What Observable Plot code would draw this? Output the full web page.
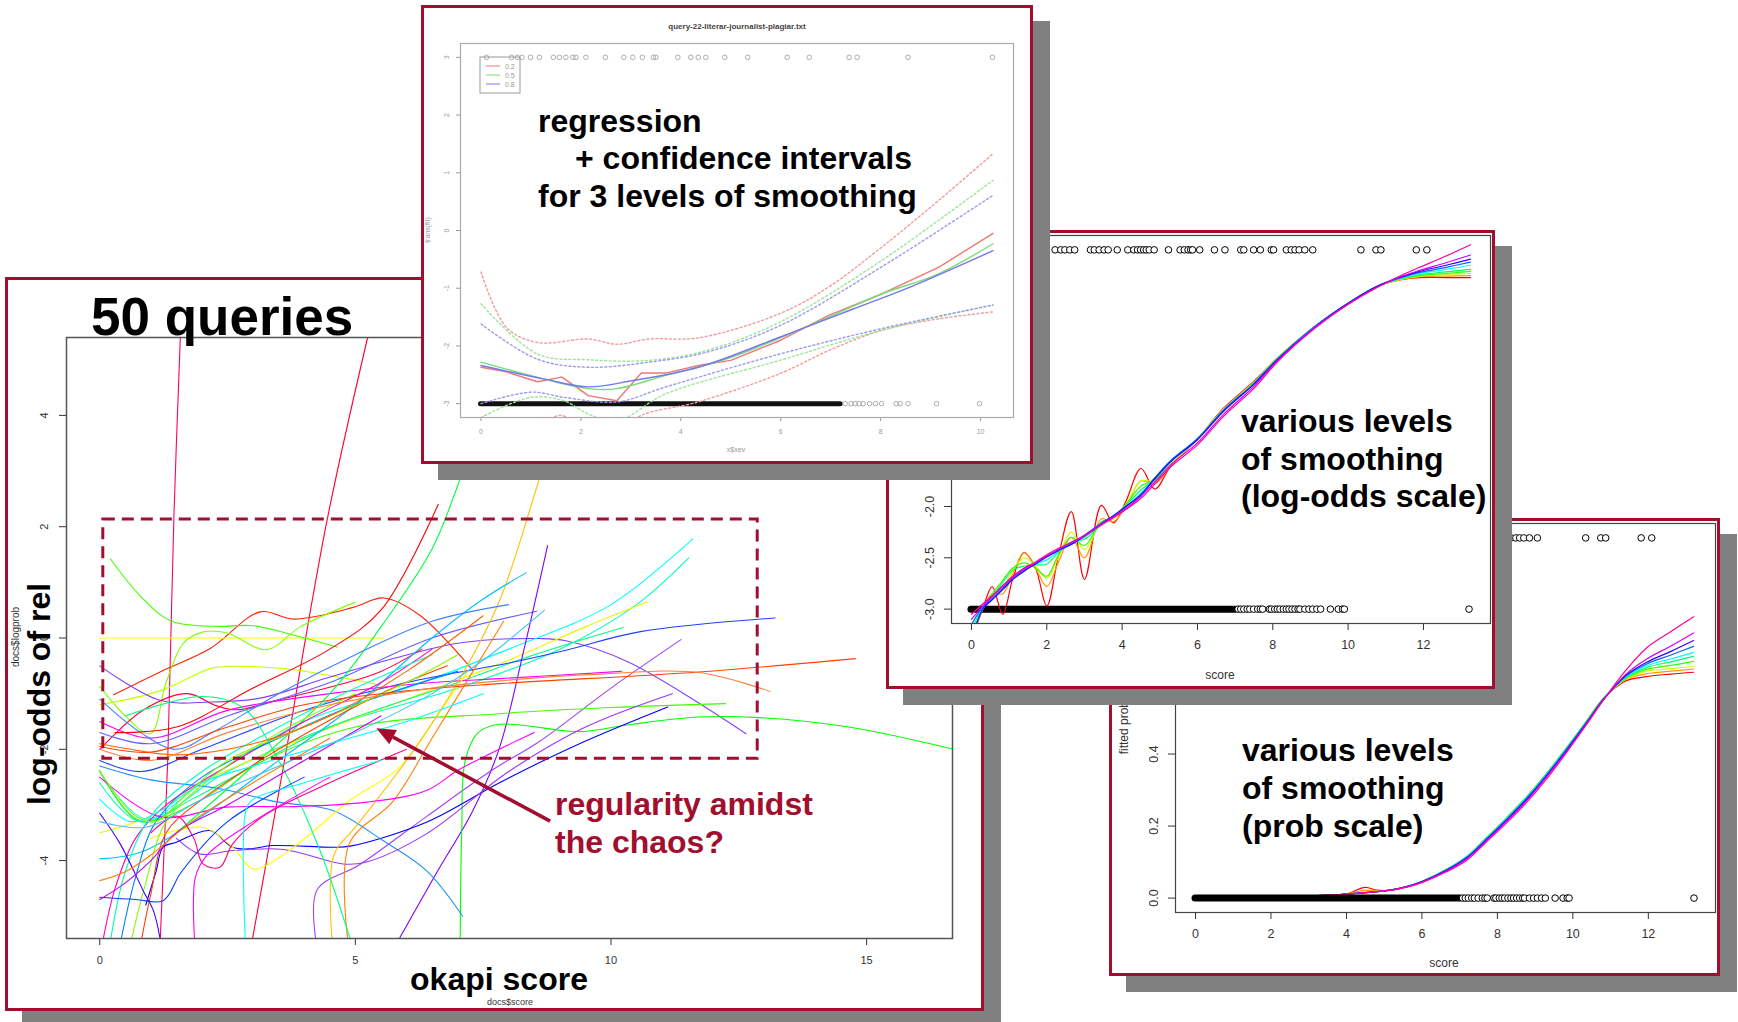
<!DOCTYPE html>
<html>
<head>
<meta charset="utf-8">
<script src="https://cdn.jsdelivr.net/npm/d3@7"></script>
<script src="https://cdn.jsdelivr.net/npm/@observablehq/plot@0.6"></script>
<style>
  html, body { margin: 0; padding: 0; background: #fff; }
  #page { position: relative; width: 1738px; height: 1022px; overflow: hidden; background: #fff;
          font-family: "Liberation Sans", Arial, sans-serif; }
  .panel { position: absolute; box-sizing: border-box; border: 3px solid #a10e2e; background: #fff;
           box-shadow: 17px 16px 0 #808080; overflow: hidden; }
</style>
</head>
<body>
<div id="page"></div>
<script>
// ---------------- DATA ----------------
// Panel A: 50 queries, smoothed log-odds of relevance vs okapi score
const xTicksA = [0, 5, 10, 15];
const yTicksA = [-4, -2, 0, 2, 4];
const queryColors = [
  "#FF0066","#FF0033","#FF2000","#FFFF00","#40FF00","#80FF00","#C0FF00","#8040FF","#FF0040","#00FFFF",
  "#00FFBF","#F0F000","#00FF80","#2040FF","#6060FF","#8000FF","#A040FF","#FF00FF","#40FF00","#00FF00",
  "#0000FF","#1E90FF","#9933FF","#FFFF00","#FFC000","#FF8000","#FF00FF","#00BFFF","#00FF40","#00FF80",
  "#FF00BF","#00FFBF","#0080FF","#80FF00","#FF4000","#4000FF","#BF00FF","#FF8000","#0040FF","#FF0080",
  "#00FFFF","#80FF00","#FF6000","#4080FF","#00FFFF","#FF00FF","#FF4000","#FF8040","#FF0000","#40C0FF"
];
const queryCurves = [
  [[1.18,-5.5],[1.25,-4],[1.33,-2.2],[1.45,2.15],[1.58,5.5]],
  [[2.97,-5.5],[3.62,-2.17],[4.45,2.13],[5.24,5.4]],
  [[0.27,-1.02],[1.2,-0.6],[2.16,-0.19],[3.14,0.47],[3.79,0.34],[4.96,0.55],[5.55,0.72],[6.26,0.41],[7.3,-0.58]],
  [[0,0],[5.55,0]],
  [[0.21,1.42],[0.8,0.75],[1.38,0.31],[2.23,0.21],[3.0,0.22],[3.8,0.05],[4.64,-0.16]],
  [[0,-0.87],[0.5,-1.4],[0.99,-1.72],[1.3,-0.8],[1.64,-0.09],[2.03,0.11],[2.49,0.09],[3.27,-0.21],[3.92,0.2],[4.99,0.64]],
  [[0,-1.2],[1.18,-0.95],[2.16,-0.55],[2.49,-0.51],[3.79,-0.57],[4.77,-0.72],[5.42,-0.83]],
  [[0,-0.5],[1.18,-1.12],[2.16,-1.15],[3.14,-1.08],[4.44,-0.72],[5.74,-0.37],[7.04,-0.09],[8.6,-0.01],[9.12,-0.05],[10.36,-0.44],[12.64,-1.72]],
  [[0,-2.0],[0.86,-1.29],[1.71,-1.0],[2.29,-1.22],[2.68,-1.29],[3.46,-1.12],[4.44,-0.9],[5.5,-0.6],[6.3,-0.2]],
  [[0,-2.4],[0.9,-3.25],[2,-2.6],[4,-1.5],[6,-0.9],[8,-0.2],[10,0.6],[11.6,1.78]],
  [[0,-2.6],[0.8,-3.3],[2.5,-2.4],[4.5,-1.6],[7,-0.9],[9,-0.2],[10.5,0.6],[11.52,1.44]],
  [[0,-3.5],[1,-3.2],[2,-2.6],[4,-1.8],[6,-1.1],[8,-0.4],[9.5,0.2],[10.72,0.65]],
  [[0,-2.4],[0.8,-3.3],[1.8,-2.9],[3,-2.3],[4.5,-1.6],[7,-0.8],[8.5,-0.3],[10.24,0.19]],
  [[0,-2.2],[0.8,-2.4],[2,-2.0],[4,-1.3],[6,-0.8],[8,-0.45],[9.12,-0.22],[10.55,0.11],[13.21,0.36]],
  [[0,-1.7],[1,-1.9],[2.5,-1.4],[4.5,-0.8],[6.5,0.0],[8.55,0.48]],
  [[5.8,-5.5],[6.6,-4.2],[7.3,-3.1],[7.82,-1.97],[8.3,-0.2],[8.76,1.66]],
  [[4.24,-5.5],[4.25,-4.53],[5.09,-4.07],[6.39,-3.21],[7.7,-2.36],[8.6,-1.86],[10,-0.9],[11.37,-0.03]],
  [[0,-1.5],[1,-1.8],[2.5,-1.3],[4.5,-1.0],[6.5,-0.8],[7.82,-0.73],[10.2,-0.6]],
  [[0,-2.38],[0.78,-3.28],[1.96,-2.92],[3,-2.3],[5,-1.6],[7.82,-1.36],[10,-1.25],[12.24,-1.18]],
  [[7.05,-5.5],[7.08,-3.5],[7.15,-2.2],[7.4,-1.7],[7.82,-1.55],[9.12,-1.67],[9.48,-1.68],[10.42,-1.55],[11.72,-1.42],[12.9,-1.43],[14.65,-1.6],[16.66,-1.99]],
  [[0.9,-4.8],[1.1,-4.2],[1.24,-3.76],[1.5,-3.67],[2.15,-3.46],[2.6,-3.76],[2.9,-3.79],[3.39,-3.73],[4.56,-3.76],[4.9,-3.74],[6.39,-3.31],[7.82,-2.6],[9.31,-1.93],[11.11,-1.24]],
  [[0,-2.3],[1,-2.55],[2.3,-2.7],[3.5,-2.95],[4.56,-3.1],[5.54,-3.64],[6.39,-4.18],[7.1,-5.0]],
  [[1.5,-3.6],[1.96,-3.88],[2.6,-3.82],[3.6,-3.8],[4.76,-4.06],[5.2,-4.03],[6.39,-3.52],[8,-2.4],[9.5,-1.6],[11.2,-1.0]],
  [[1.0,-3.6],[2.0,-3.4],[2.6,-3.76],[3.0,-4.15],[3.5,-3.95],[4.04,-3.58],[4.89,-2.92],[5.87,-2.32],[6.6,-1.4],[7.2,-0.6]],
  [[4.55,-5.5],[4.58,-3.9],[5.0,-3.4],[6.0,-2.2],[7.0,-0.8],[7.82,0.67],[8.59,2.83],[9.0,4.0]],
  [[4.86,-5.5],[4.88,-3.7],[5.74,-2.93],[6.5,-1.8],[7.3,-0.6],[7.9,0.3]],
  [[0,-2.5],[1.18,-3.21],[2.48,-3.04],[3.79,-3.03],[5.22,-2.95],[6.39,-2.74],[7.04,-2.36],[8.5,-1.7]],
  [[0,-3.97],[0.8,-3.85],[2,-3.2],[3.5,-2.2],[5,-1.2],[6.5,0.0],[7.5,0.7],[8.34,1.17]],
  [[1.5,-3.5],[3,-2.3],[4.5,-1.0],[5.5,0.2],[6.5,1.6],[7.04,2.83],[7.6,4.2]],
  [[0.5,-1.4],[2.0,-1.05],[2.8,-1.25],[3.5,-2.2],[4.3,-3.8],[4.93,-5.5]],
  [[0.05,-5.5],[0.3,-4.5],[0.7,-3.6],[1.3,-3.0],[2.5,-2.3],[4,-1.5],[5.5,-0.8],[6.5,-0.2]],
  [[0.2,-5.5],[0.5,-4.2],[1.0,-3.2],[2,-2.4],[3.5,-1.6],[5,-0.9],[6.5,-0.3]],
  [[0.4,-5.5],[0.7,-4.3],[1.1,-3.3],[2,-2.5],[3.5,-1.8],[5,-1.2],[7,-0.6]],
  [[0.6,-5.5],[0.9,-4.4],[1.3,-3.3],[2.2,-2.5],[3.5,-1.7],[5,-1.0]],
  [[0.8,-5.5],[1.0,-4.6],[1.3,-3.5],[2.0,-2.9],[3.5,-2.0],[5.5,-1.0],[6.8,-0.5]],
  [[0,-3.15],[0.4,-3.7],[0.85,-4.54],[1.05,-4.9],[1.2,-5.5]],
  [[0,-4.7],[0.5,-4.4],[1.0,-4.0],[1.5,-3.5],[2.5,-3.0],[4,-2.2],[5.5,-1.4]],
  [[0,-4.36],[0.5,-4.2],[1.0,-3.9],[1.8,-3.3],[3,-2.6],[4.5,-1.8]],
  [[0,-4.66],[0.7,-4.7],[1.24,-4.72],[1.6,-4.2],[2.5,-3.3],[4,-2.5]],
  [[1.0,-3.5],[1.5,-3.2],[1.84,-3.6],[2.02,-4.06],[2.35,-4.12],[2.6,-3.7],[3.2,-3.2],[4.5,-2.6],[6,-2.0]],
  [[0,-2.9],[0.6,-3.3],[1.2,-3.1],[2,-2.6],[3,-2.3],[4.5,-1.9],[6,-1.5],[7.5,-1.0]],
  [[0,-2.4],[0.7,-3.2],[1.1,-3.3],[1.7,-2.8],[2.5,-2.2],[4,-1.6],[6,-0.8],[7,-0.3]],
  [[0,-1.9],[0.6,-2.0],[1.5,-2.1],[3,-1.9],[4.5,-1.4],[6,-0.6],[7.5,0.4]],
  [[0,-1.1],[0.8,-1.7],[1.5,-2.0],[2.2,-1.7],[3.5,-1.0],[5,-0.3],[6.5,0.3],[8,0.6]],
  [[2.85,-5.5],[2.86,-3.1],[3.0,-2.9],[4,-2.6],[5.5,-2.2]],
  [[1.86,-5.5],[1.87,-4.3],[2.1,-3.9],[3,-3.3],[4.5,-2.5]],
  [[0,-1.95],[1,-2.05],[2.5,-1.6],[4,-1.2],[6,-0.95],[7.82,-0.82],[11.72,-0.61],[14.78,-0.37]],
  [[0,-2.0],[1,-2.2],[2.5,-1.7],[4.5,-1.2],[6.5,-0.9],[7.82,-0.77],[9.77,-0.65],[11.72,-0.62],[13.11,-0.96]],
  [[0.3,-1.7],[1.5,-1.6],[3,-0.9],[4.5,-0.2],[5.5,0.5],[6.62,2.4]],
  [[0,-3.3],[0.9,-3.4],[2,-2.9],[3.5,-2.3],[5,-1.7],[6.5,-1.0],[7.5,-0.4],[8.7,0.5]]
];
// slide annotations (in panel-A data units)
const highlightBox = [{x1: 0.07, x2: 12.87, y1: -2.17, y2: 2.13}];
const calloutArrow = {x1: 8.82, y1: -3.30, x2: 5.42, y2: -1.63};

// Panel B: one query, regression + confidence intervals
const xTicksB = [0, 2, 4, 6, 8, 10];
const yTicksB = [-3, -2, -1, 0, 1, 2, 3];
const spanLevels = ["0.2", "0.5", "0.8"];
const fitRedB   = [[0,-2.37],[0.51,-2.45],[1.13,-2.62],[1.62,-2.54],[2.15,-2.86],[2.72,-2.95],[3.21,-2.47],[3.70,-2.47],[4.35,-2.34],[5.0,-2.25],[5.98,-1.91],[6.96,-1.47],[8.02,-1.10],[9.16,-0.64],[10.25,-0.05]];
const fitGreenB = [[0,-2.28],[1.25,-2.57],[2.15,-2.74],[2.72,-2.74],[3.70,-2.51],[5.0,-2.2],[6.96,-1.50],[8.02,-1.10],[9.16,-0.75],[10.25,-0.23]];
const fitBlueB  = [[0,-2.34],[1.25,-2.57],[2.15,-2.71],[3.04,-2.60],[4.35,-2.37],[5.98,-1.85],[7.45,-1.36],[8.59,-0.98],[10.25,-0.35]];
const upRedB    = [[0,-0.72],[0.51,-1.68],[1.13,-1.94],[2.15,-1.88],[2.72,-1.97],[3.37,-1.88],[4.35,-1.86],[5.98,-1.44],[6.96,-0.98],[8.02,-0.29],[9.16,0.52],[10.25,1.33]];
const upGreenB  = [[0,-1.27],[1.13,-2.14],[2.15,-2.24],[3.37,-2.25],[4.51,-2.08],[5.98,-1.59],[8.02,-0.52],[10.25,0.87]];
const upBlueB   = [[0,-1.62],[1.13,-2.23],[2.15,-2.37],[3.37,-2.28],[4.51,-2.11],[5.98,-1.65],[8.02,-0.63],[10.25,0.61]];
const loRedB    = [[0,-3.9],[0.6,-3.3],[1.0,-3.5],[1.6,-3.2],[2.2,-3.6],[2.8,-3.6],[3.13,-3.24],[4.35,-2.97],[5.98,-2.48],[6.96,-2.08],[8.02,-1.73],[9.16,-1.53],[10.25,-1.41]];
const loGreenB  = [[0,-3.24],[1.0,-2.89],[1.66,-2.95],[2.15,-3.18],[2.72,-3.3],[3.70,-2.83],[5.98,-2.25],[8.02,-1.73],[10.25,-1.29]];
const loBlueB   = [[0,-3.0],[1.0,-2.80],[1.66,-2.89],[2.72,-2.97],[3.70,-2.71],[5.98,-2.14],[8.02,-1.70],[10.25,-1.29]];
const relevantB = [0.11,0.61,0.73,0.82,0.99,1.17,1.45,1.57,1.70,1.84,1.90,2.10,2.49,2.86,3.04,3.23,3.45,3.50,3.94,4.20,4.35,4.50,4.88,5.34,6.13,6.57,7.37,7.53,8.55,10.24];
const denseB = [0, 7.2];
const sparseB = [7.29,7.41,7.49,7.57,7.65,7.78,7.90,8.02,8.31,8.39,8.55,9.12,9.98];

// Panels C and D: various smoothing levels
const smoothColors = ["#FF0000","#FF9900","#CCFF00","#33FF00","#00FF66","#00FFFF","#0066FF","#3300FF","#CC00FF","#FF0099"];
const xTicksCD = [0, 2, 4, 6, 8, 10, 12];
const yTicksC = [-3, -2.5, -2, -1.5, -1, -0.5, 0, 0.5];
const yTicksD = [0, 0.2, 0.4, 0.6, 0.8, 1];
const scoreGridC = [0,0.3,0.55,0.83,1.1,1.4,1.7,2.0,2.3,2.65,3.0,3.45,3.77,4.1,4.5,4.87,5.3,6.0,6.7,7.5,8.1,9.1,10.0,10.8,11.4,11.9,12.6,13.25];
const logOddsC = [
  [-3.3,-3.0,-2.78,-3.05,-2.7,-2.45,-2.6,-2.97,-2.5,-2.05,-2.71,-1.99,-2.16,-1.95,-1.63,-1.83,-1.6,-1.34,-1.04,-0.78,-0.56,-0.25,-0.02,0.15,0.21,0.23,0.23,0.23],
  [-3.25,-3.0,-2.85,-2.85,-2.65,-2.45,-2.6,-2.78,-2.55,-2.3,-2.5,-2.12,-2.15,-2.0,-1.75,-1.78,-1.6,-1.34,-1.05,-0.79,-0.56,-0.25,-0.02,0.15,0.21,0.24,0.245,0.25],
  [-3.2,-2.98,-2.88,-2.8,-2.62,-2.5,-2.58,-2.7,-2.5,-2.25,-2.42,-2.15,-2.12,-1.98,-1.75,-1.75,-1.58,-1.34,-1.05,-0.79,-0.56,-0.25,-0.02,0.15,0.215,0.245,0.26,0.27],
  [-3.3,-3.0,-2.85,-2.72,-2.6,-2.55,-2.6,-2.68,-2.48,-2.3,-2.38,-2.15,-2.1,-1.98,-1.8,-1.74,-1.56,-1.34,-1.06,-0.8,-0.57,-0.25,-0.02,0.15,0.22,0.25,0.27,0.29],
  [-3.25,-3.0,-2.88,-2.74,-2.62,-2.58,-2.57,-2.56,-2.45,-2.35,-2.32,-2.18,-2.1,-1.99,-1.84,-1.73,-1.56,-1.34,-1.06,-0.8,-0.57,-0.25,-0.02,0.15,0.22,0.26,0.285,0.31],
  [-3.2,-2.99,-2.9,-2.79,-2.69,-2.6,-2.56,-2.52,-2.44,-2.37,-2.3,-2.17,-2.09,-2.0,-1.87,-1.72,-1.55,-1.34,-1.06,-0.8,-0.57,-0.25,-0.02,0.15,0.225,0.27,0.31,0.35],
  [-3.15,-2.98,-2.9,-2.8,-2.7,-2.62,-2.56,-2.49,-2.43,-2.36,-2.28,-2.16,-2.09,-2.0,-1.88,-1.72,-1.55,-1.34,-1.06,-0.8,-0.57,-0.25,-0.02,0.15,0.23,0.28,0.33,0.38],
  [-3.3,-3.0,-2.91,-2.81,-2.71,-2.63,-2.56,-2.49,-2.43,-2.37,-2.29,-2.17,-2.09,-2.0,-1.89,-1.73,-1.56,-1.35,-1.07,-0.81,-0.58,-0.26,-0.02,0.15,0.235,0.29,0.35,0.41],
  [-3.1,-2.97,-2.88,-2.78,-2.69,-2.61,-2.55,-2.48,-2.42,-2.35,-2.28,-2.17,-2.1,-2.02,-1.9,-1.76,-1.59,-1.38,-1.1,-0.83,-0.59,-0.26,-0.03,0.14,0.24,0.30,0.375,0.45],
  [-3.05,-2.95,-2.87,-2.77,-2.68,-2.6,-2.54,-2.47,-2.41,-2.35,-2.29,-2.18,-2.11,-2.03,-1.92,-1.78,-1.61,-1.40,-1.12,-0.85,-0.6,-0.27,-0.03,0.14,0.25,0.33,0.44,0.55]
];
const scoreGridD = [0,1,2,3,3.4,4.0,4.5,4.8,5.2,5.6,6.0,6.65,7.2,7.7,8.24,8.77,9.3,9.84,10.37,10.8,11.4,11.96,12.6,13.2];
const probD = [
  [0,0.001,0.002,0.005,0.009,0.012,0.030,0.022,0.022,0.032,0.046,0.079,0.116,0.166,0.222,0.280,0.345,0.418,0.492,0.553,0.603,0.615,0.622,0.627],
  [0,0.001,0.002,0.005,0.007,0.011,0.022,0.020,0.023,0.032,0.046,0.079,0.116,0.166,0.222,0.280,0.345,0.418,0.492,0.553,0.606,0.623,0.630,0.636],
  [0,0.001,0.002,0.005,0.007,0.011,0.017,0.019,0.023,0.032,0.046,0.079,0.116,0.166,0.222,0.280,0.345,0.418,0.492,0.553,0.608,0.630,0.637,0.643],
  [0,0.001,0.002,0.005,0.007,0.011,0.015,0.018,0.023,0.032,0.046,0.079,0.116,0.166,0.222,0.280,0.345,0.418,0.492,0.553,0.610,0.635,0.646,0.657],
  [0,0.001,0.002,0.005,0.007,0.011,0.015,0.018,0.023,0.032,0.046,0.079,0.116,0.166,0.222,0.280,0.345,0.418,0.492,0.553,0.612,0.640,0.656,0.671],
  [0,0.001,0.002,0.005,0.007,0.011,0.015,0.018,0.023,0.032,0.046,0.079,0.116,0.165,0.220,0.278,0.343,0.416,0.490,0.552,0.614,0.645,0.664,0.682],
  [0,0.001,0.002,0.005,0.007,0.011,0.015,0.018,0.023,0.032,0.046,0.078,0.114,0.163,0.218,0.276,0.341,0.414,0.489,0.551,0.616,0.650,0.675,0.699],
  [0,0.001,0.002,0.005,0.007,0.011,0.015,0.018,0.023,0.032,0.045,0.077,0.112,0.161,0.216,0.273,0.339,0.411,0.487,0.550,0.618,0.655,0.685,0.715],
  [0,0.001,0.002,0.005,0.007,0.011,0.015,0.018,0.023,0.031,0.044,0.075,0.110,0.158,0.213,0.270,0.336,0.408,0.485,0.549,0.621,0.664,0.700,0.736],
  [0,0.001,0.002,0.005,0.007,0.011,0.015,0.018,0.022,0.030,0.043,0.073,0.106,0.155,0.208,0.265,0.330,0.405,0.483,0.548,0.632,0.695,0.740,0.781]
];
const relevantCD = [2.22,2.37,2.48,2.61,2.74,3.16,3.26,3.39,3.52,3.63,3.87,4.15,4.31,4.41,4.49,4.57,4.64,4.72,4.85,5.23,5.54,5.65,5.75,5.82,5.87,6.06,6.45,6.73,7.15,7.23,7.49,7.67,7.96,8.02,8.36,8.49,8.59,8.70,8.85,9.06,10.34,10.74,10.87,11.81,12.09];
const denseCD = [0, 7.02];
const sparseCD = [7.08,7.15,7.23,7.32,7.39,7.49,7.60,7.67,7.73,7.91,7.96,8.05,8.12,8.19,8.28,8.36,8.43,8.51,8.59,8.67,8.72,8.85,8.96,9.06,9.17,9.27,9.53,9.74,9.85,9.90,13.21];

// ---------------- LAYOUT HELPERS ----------------
const CRIMSON = "#a10e2e";
const FONT = "Liberation Sans, Arial, Helvetica, sans-serif";
const page = document.getElementById("page");
const BW = 3;
function makePanel(left, top, right, bottom, z) {
  const el = document.createElement("div");
  el.className = "panel";
  Object.assign(el.style, {left: left + "px", top: top + "px", width: (right - left) + "px", height: (bottom - top) + "px", zIndex: z});
  page.appendChild(el);
  return {el, ox: left + BW, oy: top + BW, w: right - left - 2 * BW, h: bottom - top - 2 * BW};
}
function placePlot(panel, svg, pageX, pageY) {
  svg.style.position = "absolute";
  svg.style.left = (pageX - panel.ox) + "px";
  svg.style.top = (pageY - panel.oy) + "px";
  svg.style.maxWidth = "none";
  panel.el.appendChild(svg);
}
function overlay(panel) {
  const svg = d3.create("svg").attr("width", panel.w).attr("height", panel.h)
    .style("position", "absolute").style("left", "0px").style("top", "0px");
  panel.el.appendChild(svg.node());
  return svg.append("g").attr("transform", `translate(${-panel.ox},${-panel.oy})`);
}
function label(g, x, y, str, o = {}) {
  const t = g.append("text").attr("x", x).attr("y", y).text(str)
    .attr("font-family", FONT).attr("font-size", o.size || 32)
    .attr("font-weight", o.weight || "bold").attr("fill", o.fill || "#000")
    .attr("text-anchor", o.anchor || "start");
  if (o.rotate) t.attr("transform", `rotate(${o.rotate},${x},${y})`);
  return t;
}
const pts = (arr) => ({x: d => d[0], y: d => d[1]});
const fmt1 = d3.format(".1f");
function yTickLabels(ticks, dx, size, fill, f = String) {
  return Plot.text(ticks, {y: d => d, text: d => f(d).replace("−", "-"), frameAnchor: "left", dx,
    rotate: -90, textAnchor: "middle", lineAnchor: "middle", fontSize: size, fill});
}

// ---------------- PANEL A ----------------
const pA = makePanel(5, 277, 984, 1011, 1);
{
  const arrowMark = (index, scales) => {
    const a = calloutArrow;
    const x1 = scales.x(a.x1), y1 = scales.y(a.y1), x2 = scales.x(a.x2), y2 = scales.y(a.y2);
    const ang = Math.atan2(y2 - y1, x2 - x1), L = 19, W = 8;
    const bx = x2 - L * Math.cos(ang), by = y2 - L * Math.sin(ang);
    const g = d3.create("svg:g");
    g.append("line").attr("x1", x1).attr("y1", y1).attr("x2", bx).attr("y2", by)
      .attr("stroke", CRIMSON).attr("stroke-width", 3.5);
    g.append("polygon").attr("fill", CRIMSON).attr("points",
      `${x2},${y2} ${bx + W * Math.sin(ang)},${by - W * Math.cos(ang)} ${bx - W * Math.sin(ang)},${by + W * Math.cos(ang)}`);
    return g.node();
  };
  const plotA = Plot.plot({
    width: 966, height: 691,
    marginLeft: 60, marginRight: 20, marginTop: 30, marginBottom: 60,
    style: {background: "transparent", fontFamily: FONT, fontSize: "11px", color: "#333"},
    x: {domain: [-0.65, 16.68], ticks: xTicksA, tickSize: 7, tickPadding: 11, label: null},
    y: {domain: [-5.4, 5.4], ticks: yTicksA, tickSize: 7, tickFormat: () => "", label: null},
    marks: [
      ...queryCurves.map((c, i) => Plot.line(c, {...pts(c), stroke: queryColors[i], strokeWidth: 1.1, curve: "catmull-rom", clip: true})),
      Plot.frame({stroke: "#555", strokeWidth: 1.5}),
      yTickLabels(yTicksA, -22, 11, "#333"),
      Plot.rect(highlightBox, {x1: "x1", x2: "x2", y1: "y1", y2: "y2", fill: "none", stroke: CRIMSON, strokeWidth: 3, strokeDasharray: "12,7"}),
      arrowMark
    ]
  });
  placePlot(pA, plotA, 6, 307);
  const g = overlay(pA);
  label(g, 19, 637, "docs$logprob", {size: 10, weight: "normal", fill: "#333", anchor: "middle", rotate: -90});
  label(g, 510, 1005, "docs$score", {size: 9, weight: "normal", fill: "#333", anchor: "middle"});
  label(g, 91, 335, "50 queries", {size: 53});
  label(g, 50, 694, "log-odds of rel", {size: 32, anchor: "middle", rotate: -90});
  label(g, 499, 990, "okapi score", {size: 32, anchor: "middle"});
  label(g, 555, 815, "regularity amidst", {size: 32, fill: CRIMSON});
  label(g, 555, 852.5, "the chaos?", {size: 32, fill: CRIMSON});
}

// ---------------- PANEL D ----------------
const pD = makePanel(1109, 518, 1720, 976, 2);
{
  const plotD = Plot.plot({
    width: 615, height: 465,
    marginLeft: 70, marginRight: 5, marginTop: 10, marginBottom: 66,
    style: {background: "transparent", fontFamily: FONT, fontSize: "12.5px", color: "#333"},
    x: {domain: [-0.53, 13.78], ticks: xTicksCD, tickSize: 7, tickPadding: 10, label: null},
    y: {domain: [-0.04, 1.04], ticks: yTicksD, tickSize: 7, tickFormat: () => "", label: null},
    marks: [
      ...probD.map((ys, i) => Plot.line(ys.map((y, j) => [scoreGridD[j], y]), {x: d => d[0], y: d => d[1], stroke: smoothColors[i], strokeWidth: 1.2, curve: "catmull-rom", clip: true})),
      Plot.ruleY([0], {x1: () => denseCD[0], x2: () => denseCD[1], stroke: "#000", strokeWidth: 7, strokeLinecap: "round"}),
      Plot.dot(sparseCD, {x: d => d, y: () => 0, r: 3.3, stroke: "#000", strokeWidth: 1, fill: "white"}),
      Plot.dot(relevantCD, {x: d => d, y: () => 1, r: 3.3, stroke: "#000", strokeWidth: 1, fill: "white"}),
      Plot.frame({stroke: "#444", strokeWidth: 1.2}),
      yTickLabels(yTicksD, -22, 12.5, "#333", fmt1)
    ]
  });
  placePlot(pD, plotD, 1105, 513);
  const g = overlay(pD);
  label(g, 1444, 967, "score", {size: 12, weight: "normal", fill: "#333", anchor: "middle"});
  label(g, 1128, 717, "fitted prob(rel)", {size: 12, weight: "normal", fill: "#333", anchor: "middle", rotate: -90});
  label(g, 1242, 761, "various levels");
  label(g, 1242, 799, "of smoothing");
  label(g, 1242, 837, "(prob scale)");
}

// ---------------- PANEL C ----------------
const pC = makePanel(886, 230, 1495, 689, 3);
{
  const plotC = Plot.plot({
    width: 609, height: 464,
    marginLeft: 65, marginRight: 5, marginTop: 10, marginBottom: 66,
    style: {background: "transparent", fontFamily: FONT, fontSize: "12.5px", color: "#333"},
    x: {domain: [-0.53, 13.78], ticks: xTicksCD, tickSize: 7, tickPadding: 10, label: null},
    y: {domain: [-3.14, 0.64], ticks: yTicksC, tickSize: 7, tickFormat: () => "", label: null},
    marks: [
      Plot.ruleY([-3], {x1: () => denseCD[0], x2: () => denseCD[1], stroke: "#000", strokeWidth: 7, strokeLinecap: "round"}),
      Plot.dot(sparseCD, {x: d => d, y: () => -3, r: 3.3, stroke: "#000", strokeWidth: 1, fill: "white"}),
      Plot.dot(relevantCD, {x: d => d, y: () => 0.5, r: 3.3, stroke: "#000", strokeWidth: 1, fill: "white"}),
      ...logOddsC.map((ys, i) => Plot.line(ys.map((y, j) => [scoreGridC[j], y]), {x: d => d[0], y: d => d[1], stroke: smoothColors[i], strokeWidth: 1.2, curve: "catmull-rom", clip: true})),
      Plot.frame({stroke: "#444", strokeWidth: 1.2}),
      yTickLabels(yTicksC, -22, 12.5, "#333", fmt1)
    ]
  });
  placePlot(pC, plotC, 886, 225);
  const g = overlay(pC);
  label(g, 1220, 679, "score", {size: 12, weight: "normal", fill: "#333", anchor: "middle"});
  label(g, 1241, 432, "various levels");
  label(g, 1241, 469.5, "of smoothing");
  label(g, 1241, 507, "(log-odds scale)");
}

// ---------------- PANEL B ----------------
const pB = makePanel(421, 5, 1033, 464, 4);
{
  const bColors = ["#ee7777", "#77dd77", "#7777ee"];
  const dotted = (c, col) => Plot.line(c, {...pts(c), stroke: col, strokeWidth: 1.4, strokeDasharray: "2,2.5", curve: "catmull-rom", clip: true});
  const solid = (c, col, curve) => Plot.line(c, {...pts(c), stroke: col, strokeWidth: 1.4, curve, clip: true});
  const plotB = Plot.plot({
    width: 608, height: 457,
    marginLeft: 40, marginRight: 15, marginTop: 38, marginBottom: 45,
    style: {background: "transparent", fontFamily: FONT, fontSize: "7px", color: "#999"},
    x: {domain: [-0.41, 10.66], ticks: xTicksB, tickSize: 4, tickPadding: 8, label: null},
    y: {domain: [-3.24, 3.24], ticks: yTicksB, tickSize: 4, tickFormat: () => "", label: null},
    marks: [
      Plot.ruleY([-3], {x1: () => denseB[0], x2: () => denseB[1], stroke: "#111", strokeWidth: 5, strokeLinecap: "round"}),
      Plot.dot(sparseB, {x: d => d, y: () => -3, r: 2.3, stroke: "#999", strokeWidth: 0.8}),
      Plot.dot(relevantB, {x: d => d, y: () => 3, r: 2.3, stroke: "#999", strokeWidth: 0.8}),
      dotted(upRedB, "#f39a9a"), dotted(upGreenB, "#9ae69a"), dotted(upBlueB, "#9a9af0"),
      dotted(loRedB, "#f39a9a"), dotted(loGreenB, "#9ae69a"), dotted(loBlueB, "#9a9af0"),
      solid(fitRedB, bColors[0], "linear"), solid(fitGreenB, bColors[1], "catmull-rom"), solid(fitBlueB, bColors[2], "catmull-rom"),
      Plot.frame({stroke: "#aaa", strokeWidth: 1.2}),
      yTickLabels(yTicksB, -13.5, 7, "#999")
    ]
  });
  placePlot(pB, plotB, 420, 5);
  const g = overlay(pB);
  label(g, 737, 29, "query-22-literar-journalist-plagiar.txt", {size: 8, fill: "#444", anchor: "middle"});
  label(g, 430, 230, "trans(fit)", {size: 7, weight: "normal", fill: "#999", anchor: "middle", rotate: -90});
  label(g, 736, 452, "x$xev", {size: 7, weight: "normal", fill: "#999", anchor: "middle"});
  // legend
  g.append("rect").attr("x", 480).attr("y", 57).attr("width", 40).attr("height", 36).attr("fill", "none").attr("stroke", "#999");
  spanLevels.forEach((s, i) => {
    const y = 66 + 9 * i;
    g.append("line").attr("x1", 486).attr("x2", 500).attr("y1", y).attr("y2", y).attr("stroke", bColors[i]).attr("stroke-width", 1);
    label(g, 505, y + 2.5, s, {size: 7, weight: "normal", fill: "#999"});
  });
  label(g, 538, 132, "regression");
  label(g, 575, 169, "+ confidence intervals");
  label(g, 538, 207, "for 3 levels of smoothing");
}
</script>
</body>
</html>
